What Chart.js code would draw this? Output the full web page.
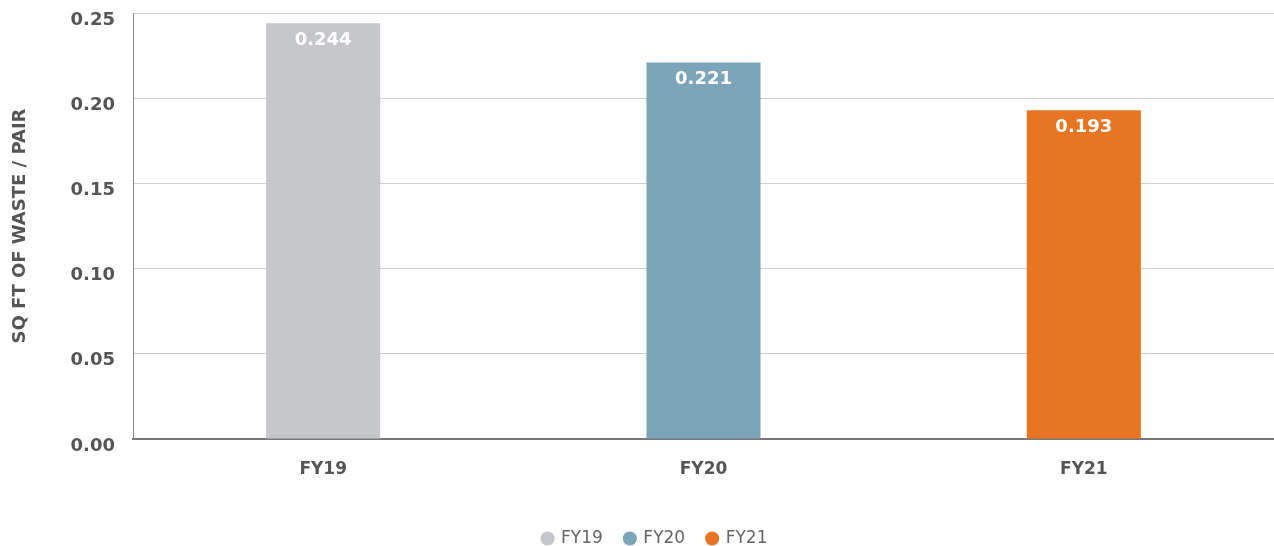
<!DOCTYPE html>
<html><head><meta charset="utf-8">
<script src="https://cdn.jsdelivr.net/npm/chart.js@4"></script>
<style>html,body{margin:0;padding:0;background:#fff}#wrap{width:1274px;height:546px}</style>
</head><body><div id="wrap"><canvas id="c"></canvas></div>
<script>
const categories = ["FY19", "FY20", "FY21"];
const values = [0.244, 0.221, 0.193];
const colors = ["#C6C7CA", "#7DA5B9", "#E87524"];
const yTicks = [0, 0.05, 0.10, 0.15, 0.20, 0.25];
const yTitle = "SQ FT OF WASTE / PAIR";

const datasets = categories.map((c, i) => ({
  label: c,
  data: categories.map((_, j) => j === i ? values[i] : null),
  backgroundColor: colors[i],
  borderWidth: 0,
  barPercentage: 0.30,
  categoryPercentage: 1.0
}));

const valueLabels = {
  id: 'valueLabels',
  afterDatasetsDraw(chart) {
    const ctx = chart.ctx;
    ctx.save();
    ctx.fillStyle = '#ffffff';
    ctx.font = 'bold 18px "DejaVu Sans"';
    ctx.textAlign = 'center';
    ctx.textBaseline = 'middle';
    chart.data.datasets.forEach((ds, di) => {
      const meta = chart.getDatasetMeta(di);
      meta.data.forEach((el, i) => {
        const v = ds.data[i];
        if (v == null) return;
        ctx.fillText(v.toFixed(3), el.x, el.y + 17);
      });
    });
    ctx.restore();
  }
};

const legendShift = {
  id: 'legendShift',
  afterLayout(chart) {
    if (chart.legend) { chart.legend.left += 18; chart.legend.right += 18; }
  }
};

new Chart(document.getElementById('c'), {
  type: 'bar',
  data: { labels: categories, datasets },
  options: {
    responsive: true,
    maintainAspectRatio: false,
    animation: false,
    layout: { padding: { top: 13, right: 0, left: 0, bottom: -11 } },
    datasets: { bar: { grouped: false, skipNull: true } },
    plugins: {
      legend: {
        position: 'bottom',
        labels: {
          usePointStyle: true, pointStyle: 'circle', boxWidth: 10, boxHeight: 10,
          color: '#666', font: { family: 'DejaVu Sans', size: 17 }, padding: 22
        }
      },
      tooltip: { enabled: false }
    },
    scales: {
      x: {
        grid: { display: false },
        border: { color: '#777', width: 2 },
        ticks: { color: '#555', font: { family: 'DejaVu Sans', size: 17, weight: 'bold' }, padding: 12 },
        afterFit(s) { s.height = 69; s.paddingLeft = 0; s.paddingRight = 0; }
      },
      y: {
        min: 0, max: 0.25,
        afterBuildTicks(s) { s.ticks = yTicks.map(v => ({ value: v })); },
        grid: { color: '#cfcfcf', lineWidth: 1, drawTicks: false },
        border: { color: '#888', width: 1 },
        ticks: {
          color: '#555', padding: 18, labelOffset: 7,
          font: { family: 'DejaVu Sans', size: 18, weight: 'bold' },
          callback: v => v.toFixed(2)
        },
        title: {
          display: true, text: yTitle, color: '#555',
          font: { family: 'DejaVu Sans', size: 18, weight: 'bold' }, padding: { top: 10, bottom: 10 }
        },
        afterFit(s) { s.width = 133; s.paddingTop = 0; s.paddingBottom = 0; }
      }
    }
  },
  plugins: [valueLabels, legendShift]
});
</script></body></html>
